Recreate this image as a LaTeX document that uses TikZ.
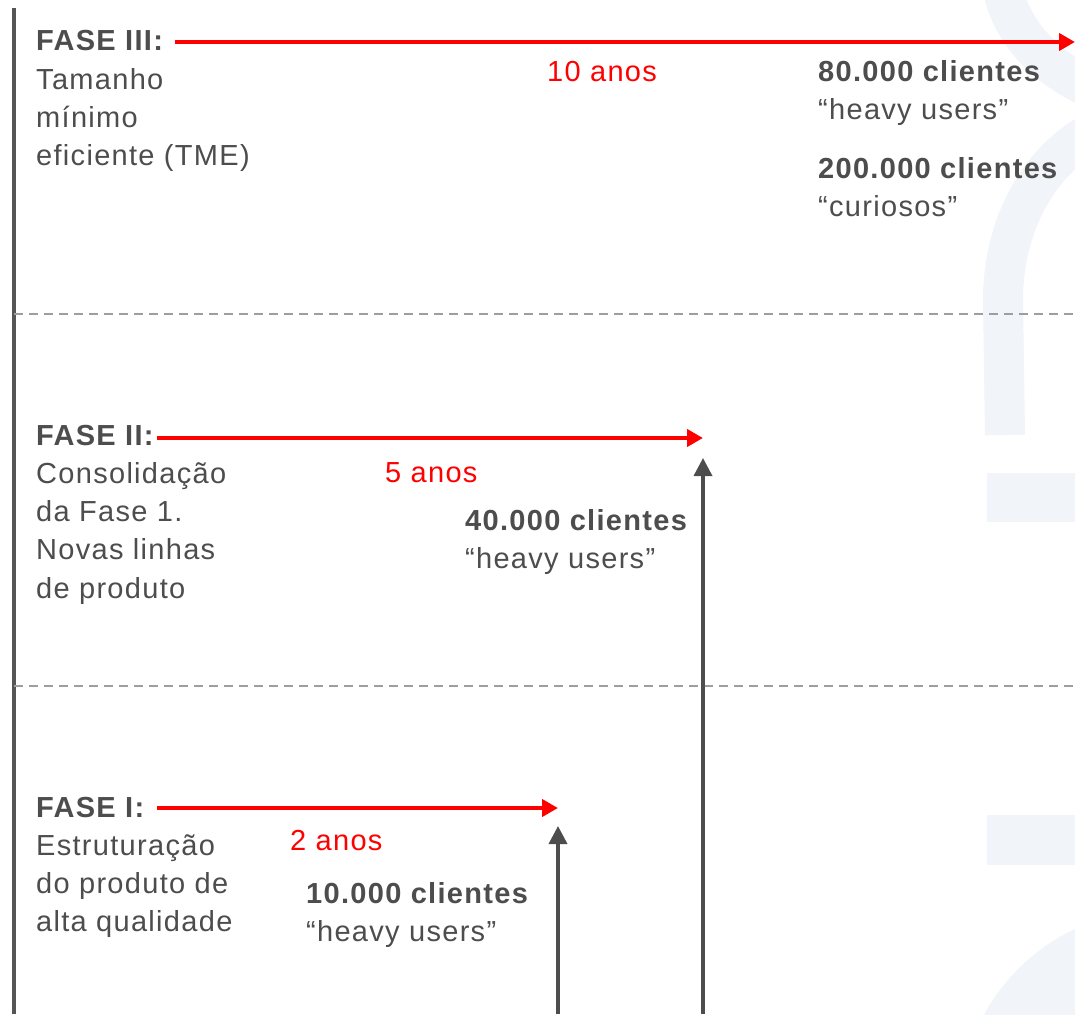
\documentclass[tikz,border=0pt]{standalone}
\usepackage{fontspec}
\setmainfont{Liberation Sans}[LetterSpace=4.5]
\usepackage{tikz}
\usetikzlibrary{positioning,
                arrows.meta,
                calc}

\definecolor{txtgray}{RGB}{77,77,77}
\definecolor{linegray}{RGB}{85,85,85}
\definecolor{dashgray}{RGB}{158,158,158}
\definecolor{wmblue}{RGB}{241,244,248}

\begin{document}
\begin{tikzpicture}
[x=1pt,y=-1pt,
txt/.style={anchor=base west,inner sep=0pt,text=txtgray,font=\fontsize{29}{38}\selectfont},
title/.style={txt,font=\fontsize{29}{38}\selectfont\bfseries},
years/.style={txt,text=red},
phase arrow/.style={red,line width=4.5pt,-{Triangle[length=16pt,width=17pt]}},
clients arrow/.style={txtgray,line width=3.5pt,-{Triangle[length=18pt,width=18pt]}},
logo band/.style={wmblue,line width=40pt},
separator/.style={dashgray,line width=2pt,dash pattern=on 9pt off 6pt}]
\useasboundingbox[fill=white] (0,0) rectangle (1075,1014);
% Logo in the background
\draw[logo band] (1001,-20) .. controls (1008,30) and (1045,70) .. (1100,92);
\draw[logo band] (1100,128) .. controls (1035,160) and (1003,230) .. (1003,300) -- (1005,435);
\fill[wmblue] (987,473) rectangle (1075,522);
\fill[wmblue] (987,815) rectangle (1075,865);
\fill[wmblue] (1160,1110) circle [radius=200];
% Frame
\draw[linegray,line width=3.5pt] (14,8) -- (14,1014);
\draw[separator] (14,314) -- (1075,314);
\draw[separator] (14,686) -- (1075,686);
% Fase III
\node[title] (f3) at (36,51) {FASE III:};
\foreach \line [count=\i] in {Tamanho,mínimo,eficiente (TME)}
  \node[txt] (f3l\i) at (36,51+38.3*\i) {\line};
\node[years] (y3) at (547,82) {10 anos};
\node[title] (c3a) at (818,82) {80.000 clientes};
\node[txt] (u3a) at (818,120) {“heavy users”};
\node[title] (c3b) at (818,178) {200.000 clientes};
\node[txt] (u3b) at (818,216) {“curiosos”};
\coordinate (s3) at (175,42);
\coordinate (e3) at (1075,42);
\draw[phase arrow] (s3) -- (e3);
% Fase II
\node[title] (f2) at (36,445) {FASE II:};
\foreach \line [count=\i] in {Consolidação,da Fase 1.,Novas linhas,de produto}
  \node[txt] (f2l\i) at (36,445+38.3*\i) {\line};
\node[years] (y2) at (385,482) {5 anos};
\node[title] (c2) at (465,530) {40.000 clientes};
\node[txt] (u2) at (465,568) {“heavy users”};
\coordinate (s2) at (157,438);
\coordinate (e2) at (703,438);
\coordinate (b2) at (703,1014);
\coordinate (p2) at (703,458);
\draw[phase arrow] (s2) -- (e2);
\draw[clients arrow] (b2) -- (p2);
% Fase I
\node[title] (f1) at (36,817) {FASE I:};
\foreach \line [count=\i] in {Estruturação,do produto de,alta qualidade}
  \node[txt] (f1l\i) at (36,817+38.3*\i) {\line};
\node[years] (y1) at (290,850) {2 anos};
\node[title] (c1) at (306,903) {10.000 clientes};
\node[txt] (u1) at (306,941) {“heavy users”};
\coordinate (s1) at (157,808);
\coordinate (e1) at (558,808);
\coordinate (b1) at (558,1014);
\coordinate (p1) at (558,826);
\draw[phase arrow] (s1) -- (e1);
\draw[clients arrow] (b1) -- (p1);
\end{tikzpicture}
\end{document}
